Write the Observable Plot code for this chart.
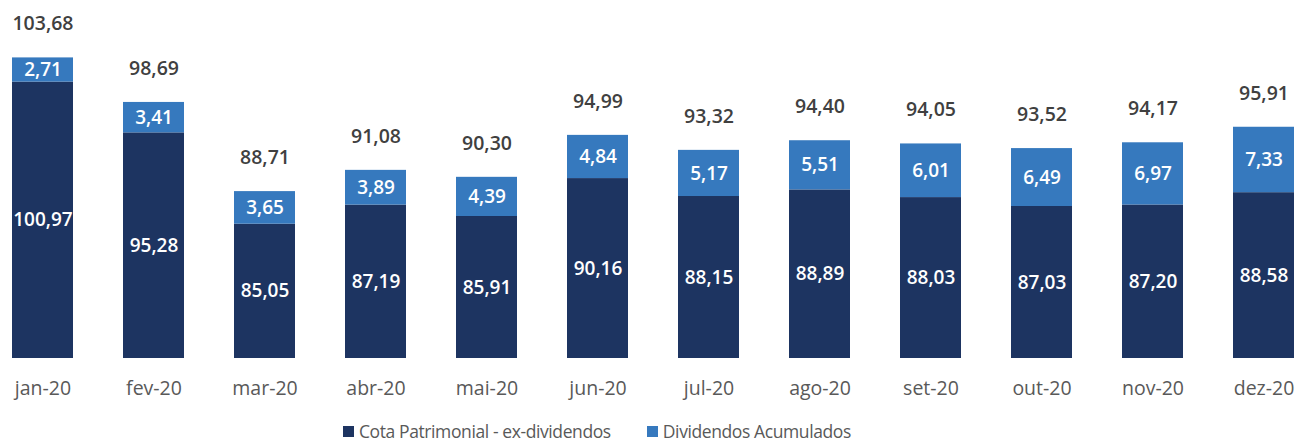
<!DOCTYPE html>
<html><head><meta charset="utf-8">
<script src="https://cdn.jsdelivr.net/npm/d3@7"></script>
<script src="https://cdn.jsdelivr.net/npm/@observablehq/plot@0.6"></script>
<style>
body{margin:0;background:#fff;font-family:"Open Sans",sans-serif;overflow:hidden;}
#legend{position:absolute;top:421px;left:343px;display:flex;gap:36px;font-size:17.5px;line-height:20px;color:#595959;letter-spacing:-0.4px;}
#legend span.sw{display:inline-block;width:11px;height:11px;margin-right:5px;}
#legend div{display:flex;align-items:center;}
</style></head><body>
<div id="chart"></div>
<div id="legend">
  <div><span class="sw" style="background:#1d3461"></span>Cota Patrimonial - ex-dividendos</div>
  <div><span class="sw" style="background:#3679be"></span>Dividendos Acumulados</div>
</div>
<script>
const months = ["jan-20","fev-20","mar-20","abr-20","mai-20","jun-20","jul-20","ago-20","set-20","out-20","nov-20","dez-20"];
const cota = [100.97,95.28,85.05,87.19,85.91,90.16,88.15,88.89,88.03,87.03,87.20,88.58];
const dividendos = [2.71,3.41,3.65,3.89,4.39,4.84,5.17,5.51,6.01,6.49,6.97,7.33];
const totals = [103.68,98.69,88.71,91.08,90.30,94.99,93.32,94.40,94.05,93.52,94.17,95.91];
const series = ["Cota Patrimonial - ex-dividendos","Dividendos Acumulados"];

const base = 70;
const fmt = v => v.toFixed(2).replace(".", ",");
const segs = [];
months.forEach((m,i)=>{
  segs.push({m, s:series[0], y1:base, y2:cota[i], v:cota[i]});
  segs.push({m, s:series[1], y1:cota[i], y2:cota[i]+dividendos[i], v:dividendos[i]});
});
const tots = months.map((m,i)=>({m, t:totals[i]}));

const chart = Plot.plot({
  width:1298, height:410,
  marginLeft:12, marginRight:3, marginTop:1, marginBottom:52,
  style:{fontFamily:"Open Sans, sans-serif", background:"#fff"},
  x:{domain:months, paddingInner:0.45, paddingOuter:0, label:null},
  y:{domain:[70,110], axis:null},
  color:{domain:series, range:["#1d3461","#3679be"]},
  marks:[
    Plot.rectY(segs,{x:"m", y1:"y1", y2:"y2", fill:"s"}),
    Plot.text(segs,{x:"m", y:d=>(d.y1+d.y2)/2, text:d=>fmt(d.v), fill:"#fff", fontSize:19, fontWeight:600}),
    Plot.text(tots,{x:"m", y:"t", text:d=>fmt(d.t), dy:-34, fill:"#404040", fontSize:19.5, fontWeight:600}),
    Plot.axisX({tickSize:0, tickPadding:30, fontSize:19.5, fill:"#595959", label:null, lineAnchor:"middle"})
  ]
});
document.getElementById("chart").appendChild(chart);
</script>
</body></html>
